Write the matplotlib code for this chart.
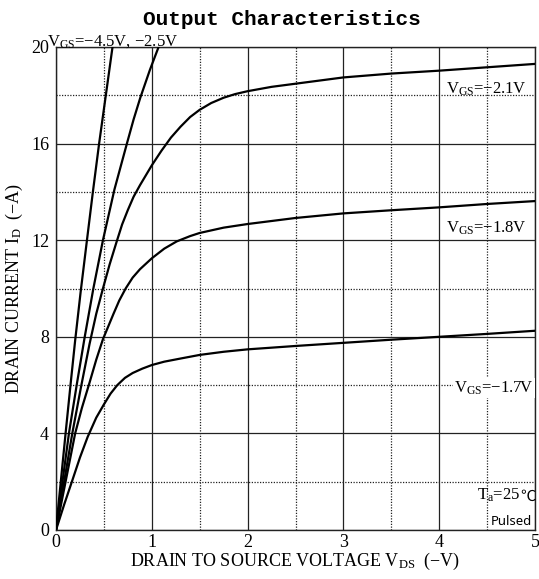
import matplotlib
matplotlib.use("Agg")
import matplotlib.pyplot as plt
import numpy as np

plt.rcParams['font.family'] = ['Liberation Serif', 'DejaVu Sans']
plt.rcParams['mathtext.fontset'] = 'custom'
plt.rcParams['mathtext.rm'] = 'Liberation Serif'
plt.rcParams['mathtext.it'] = 'Liberation Serif'

# ---- data ----
vds_45 = [0, 0.10, 0.15, 0.20, 0.257, 0.32, 0.385, 0.45, 0.52, 0.59, 0.61]
id_45 = [0, 4, 5.95, 7.85, 9.85, 11.9, 14, 16, 18, 20, 20.6]

vds_25 = [0, 0.135, 0.22, 0.30, 0.39, 0.49, 0.61, 0.74, 0.81, 0.88, 0.98, 1.09]
id_25 = [0, 4, 6.1, 8, 10, 12, 14.1, 16, 17, 17.9, 19.05, 20.2]

vds_21 = [0, 0.17, 0.26, 0.35, 0.42, 0.49, 0.56, 0.63, 0.69, 0.75, 0.81, 0.877, 1.0, 1.1, 1.2,
          1.3, 1.4, 1.5, 1.62, 1.75, 1.87, 2.0, 2.25, 2.5, 3.0, 3.5, 4.0, 4.5, 5.0]
id_21 = [0, 4, 5.9, 7.7, 8.95, 10.0, 11.0, 11.9, 12.65, 13.25, 13.8, 14.28, 15.1, 15.7, 16.25,
         16.7, 17.1, 17.4, 17.68, 17.9, 18.05, 18.17, 18.35, 18.48, 18.74, 18.9, 19.02, 19.16, 19.3]

vds_18 = [0, 0.1, 0.2, 0.27, 0.35, 0.42, 0.49, 0.6, 0.66, 0.727, 0.8, 0.877, 1.0, 1.13, 1.26,
          1.4, 1.5, 1.75, 2.0, 2.5, 3.0, 3.5, 4.0, 4.5, 5.0]
id_18 = [0, 2.0, 4, 5.05, 6.1, 7.05, 7.9, 8.95, 9.5, 10, 10.45, 10.8, 11.25, 11.65, 11.95,
         12.17, 12.3, 12.52, 12.67, 12.92, 13.11, 13.24, 13.36, 13.5, 13.62]

vds_17 = [0, 0.085, 0.17, 0.25, 0.33, 0.42, 0.5, 0.57, 0.64, 0.72, 0.8, 0.9, 1.0, 1.13, 1.3,
          1.5, 1.75, 2.0, 2.5, 3.0, 3.5, 4.0, 4.5, 5.0]
id_17 = [0, 1.05, 2.05, 3.0, 3.85, 4.65, 5.2, 5.65, 6.0, 6.3, 6.5, 6.68, 6.83, 6.97, 7.1,
         7.25, 7.38, 7.48, 7.62, 7.75, 7.88, 8.0, 8.12, 8.25]

x_ticks = [0, 1, 2, 3, 4, 5]
y_ticks = [0, 4, 8, 12, 16, 20]

fig = plt.figure(figsize=(5.39, 5.79), dpi=100)
ax = fig.add_axes([56/539, 1-530/579, (535-56)/539, (530-47)/579])

for v, i in [(vds_45, id_45), (vds_25, id_25), (vds_21, id_21), (vds_18, id_18), (vds_17, id_17)]:
    ax.plot(v, i, color='black', lw=1.6, solid_joinstyle='round', zorder=3)

ax.set_xlim(0, 5)
ax.set_ylim(0, 20)
ax.set_xticks(x_ticks)
ax.set_yticks(y_ticks)
ax.set_xticks(np.arange(0.5, 5, 1.0), minor=True)
ax.set_yticks(np.arange(2, 20, 4.0), minor=True)
ax.grid(which='major', color='#222222', lw=0.9, ls='-')
ax.grid(which='minor', color='#222222', lw=0.9, ls=(0, (1, 1.2)))
ax.tick_params(which='both', length=0)
ax.tick_params(axis='x', pad=3, labelsize=13)
ax.tick_params(axis='y', pad=5, labelsize=13)
for s in ax.spines.values():
    s.set_color('#222222')
    s.set_linewidth(1.0)

ax.set_xlabel(r'DRAIN TO SOURCE VOLTAGE V$_{\rm DS}$  (−V)', fontsize=13, labelpad=0)
ax.set_ylabel(r'DRAIN CURRENT I$_{\rm D}$  (−A)', fontsize=13, labelpad=4)

fig.text(282/539, 1-25/579, 'Output Characteristics', family='Liberation Mono',
         weight='bold', fontsize=15.2, ha='center', va='baseline')

fig.text(47/539, 1-46/579, r'V$_{\rm GS}$=−4.5V, −2.5V', fontsize=12, ha='left', va='baseline')
ax.text(4.91, 18.05, r'V$_{\rm GS}$=−2.1V', fontsize=12, ha='right', va='baseline')
ax.text(4.91, 12.31, r'V$_{\rm GS}$=−1.8V', fontsize=12, ha='right', va='baseline')
ax.text(4.99, 5.7, r'V$_{\rm GS}$=−1.7V', fontsize=12, ha='right', va='baseline',
        bbox=dict(facecolor='white', edgecolor='none', pad=1), zorder=4)

t1 = ax.text(4.85, 1.24, r'T$_{\rm a}$=25', fontsize=12, ha='right', va='baseline', zorder=4)
ax.annotate('℃', xy=(1, 0), xycoords=t1, xytext=(0, 0), textcoords='offset points',
            ha='left', va='bottom', fontsize=11, family=['Noto Sans CJK SC', 'DejaVu Sans'])
ax.text(4.97, 0.2, 'Pulsed', fontsize=9.5, family='Noto Sans', ha='right', va='baseline',
        bbox=dict(facecolor='white', edgecolor='none', pad=0.5), zorder=4)

fig.savefig('out.png', dpi=100)
